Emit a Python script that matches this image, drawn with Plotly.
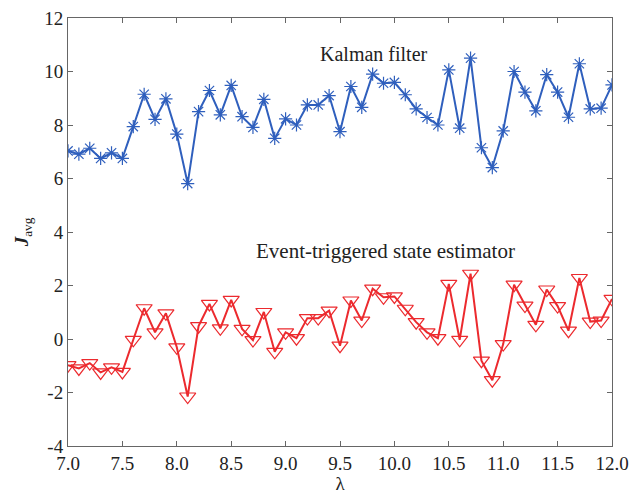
import plotly.graph_objects as go

lam = [round(7.0 + 0.1 * i, 1) for i in range(51)]

kalman = [7.03, 6.91, 7.13, 6.75, 6.96, 6.75, 7.94, 9.15, 8.21, 8.98,
          7.66, 5.81, 8.50, 9.29, 8.38, 9.48, 8.31, 7.91, 8.96, 7.50,
          8.23, 8.00, 8.75, 8.75, 9.10, 7.75, 9.44, 8.66, 9.90, 9.56,
          9.59, 9.13, 8.60, 8.28, 8.00, 10.06, 7.88, 10.50, 7.15, 6.41,
          7.78, 10.00, 9.23, 8.53, 9.88, 9.23, 8.29, 10.29, 8.60, 8.63,
          9.50]

event = [-0.98, -1.10, -0.90, -1.25, -1.06, -1.23, -0.03, 1.15, 0.25, 0.96,
         -0.31, -2.15, 0.48, 1.31, 0.40, 1.46, 0.38, -0.04, 1.01, -0.48,
         0.25, 0.03, 0.78, 0.78, 1.06, -0.25, 1.44, 0.69, 1.88, 1.56,
         1.59, 1.13, 0.63, 0.25, 0.03, 2.06, -0.03, 2.44, -0.81, -1.54,
         -0.19, 2.03, 1.25, 0.53, 1.85, 1.23, 0.31, 2.28, 0.65, 0.69,
         1.50]

xticks = [7.0, 7.5, 8.0, 8.5, 9.0, 9.5, 10.0, 10.5, 11.0, 11.5, 12.0]
yticks = [-4, -2, 0, 2, 4, 6, 8, 10, 12]

blue = "#2f5fbd"
red = "#ec2a2e"
font_family = "Liberation Serif"
text_color = "#222222"

fig = go.Figure()
fig.add_trace(go.Scatter(
    x=lam, y=kalman, mode="lines+markers", name="Kalman filter",
    line=dict(color=blue, width=2),
    marker=dict(symbol="asterisk-open", size=11, color=blue,
                line=dict(color=blue, width=1.2)),
))
fig.add_trace(go.Scatter(
    x=lam, y=event, mode="lines+markers", name="Event-triggered state estimator",
    line=dict(color=red, width=2),
    marker=dict(symbol="triangle-down-open", size=14, color=red,
                line=dict(color=red, width=1.2)),
))

axis_common = dict(
    showgrid=False, zeroline=False, showline=True, mirror="ticks",
    linecolor="#666666", linewidth=1, ticks="inside", ticklen=5,
    tickcolor="#666666", automargin=False, ticklabeloverflow="allow",
    tickfont=dict(family=font_family, size=19, color=text_color),
)

fig.update_xaxes(
    range=[7.0, 12.0], tickvals=xticks,
    ticktext=[f"{v:.1f}" for v in xticks],
    title=dict(text="λ", font=dict(family=font_family, size=19, color=text_color),
               standoff=0),
    **axis_common,
)
fig.update_yaxes(
    range=[-4, 12], tickvals=yticks,
    ticktext=[str(v) for v in yticks],
    title=dict(text="<b><i>J</i></b><sub>avg</sub>",
               font=dict(family=font_family, size=19, color=text_color),
               standoff=10),
    **axis_common,
)

fig.add_annotation(x=9.81, y=10.65, text="Kalman filter", showarrow=False,
                   font=dict(family=font_family, size=20, color=text_color))
fig.add_annotation(x=9.92, y=3.28, text="Event-triggered state estimator",
                   showarrow=False,
                   font=dict(family=font_family, size=21, color=text_color))

fig.update_layout(
    width=635, height=486,
    margin=dict(l=60, r=31, t=10, b=48),
    paper_bgcolor="white", plot_bgcolor="white",
    showlegend=False,
)

fig.write_html("out.html")
